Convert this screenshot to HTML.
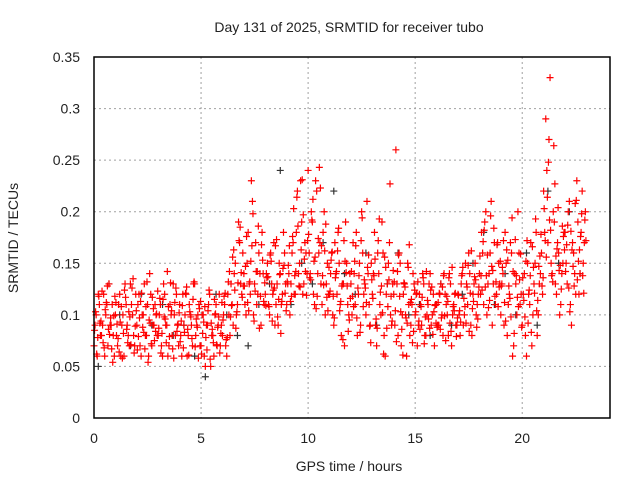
<!DOCTYPE html>
<html><head><meta charset="utf-8"><style>
body{margin:0;background:#fff}
svg text{font-family:"Liberation Sans",sans-serif;font-size:14px;fill:#222}
</style></head><body>
<svg id="chart" width="640" height="480" xmlns="http://www.w3.org/2000/svg">
<rect width="640" height="480" fill="#fff"/>
<text x="349" y="32" text-anchor="middle">Day 131 of 2025, SRMTID for receiver tubo</text>
<text x="349" y="471" text-anchor="middle">GPS time / hours</text>
<text transform="translate(18,238) rotate(-90)" text-anchor="middle">SRMTID / TECUs</text>
<g id="grid"></g><g id="marks"></g><g id="axes"></g>
</svg>
<script>
const xTicks=[0,5,10,15,20];
const yTicks=[0,0.05,0.1,0.15,0.2,0.25,0.3,0.35];
const yTickLabels=["0","0.05","0.1","0.15","0.2","0.25","0.3","0.35"];
const redA_hundredths=[7,10,12,8,9,6,11,13,9,8,10,7,12,9,6,11,8,13,10,7,9,12,6,10,8,11,14,7,9,10,8,11,6,12,9,7,10,13,8,9,11,6,9,12,8,10,7,13,9,11,7,10,5,9,12,8,6,11,9,7,8,11,6,10,13,9,15,11,17,12,14,10,18,12,21,13,11,16,9,14,12,15,10,13,17,11,9,14,12,16,11,14,13,17,12,22,15,19,13,16,24,14,19,11,22,16,13,18,10,15,12,16,9,14,18,11,13,7,15,10,13,17,11,8,15,20,12,10,14,9,12,18,7,14,10,16,6,13,17,9,12,26,8,15,10,13,6,11,9,14,10,7,12,9,13,8,11,14,10,7,11,9,13,8,12,10,14,7,11,9,12,8,14,10,13,16,9,12,15,11,14,18,11,20,13,16,9,17,12,15,10,14,18,8,12,16,7,13,20,11,9,14,6,12,17,10,15,8,13,16,22,29,17,33,14,19,12,16,11,15,18,13,21,9,16,12,19,14,22,17];
const redB_hundredths=[9,6,11,8,12,10,7,9,11,6,8,11,6,10,13,9,7,11,8,12,11,7,10,13,8,6,12,9,11,8,10,7,13,9,6,11,8,10,12,7,8,12,10,6,11,9,13,8,10,7,10,6,9,11,5,8,10,7,12,9,10,7,12,8,11,14,10,19,13,16,11,15,13,23,10,17,12,14,18,11,14,11,16,12,9,13,15,11,18,13,13,10,16,12,18,14,23,12,17,14,16,20,12,23,14,17,11,20,13,12,14,10,17,12,15,8,13,19,11,14,10,14,18,12,9,16,13,21,11,15,14,9,16,11,19,8,12,15,10,13,9,13,16,7,12,10,15,8,11,13,12,9,11,14,8,10,13,9,12,11,9,12,10,14,11,8,13,10,12,9,10,13,9,15,11,14,8,13,10,12,12,16,19,10,14,21,13,11,17,13,13,9,15,11,17,6,14,10,16,12,12,8,15,11,7,13,18,10,14,12,18,24,27,15,20,13,17,10,14,18,15,20,11,17,14,23,12,18,15,20];
const redC_thousandths=[85,62,118,94,73,105,128,81,67,99,112,77,93,58,124,86,103,71,135,89,66,97,121,83,108,54,92,117,75,101,87,63,115,96,142,79,104,58,126,91,74,109,83,127,61,98,115,69,88,106,62,93,78,104,57,86,115,71,98,82,95,121,78,142,109,163,87,131,185,117,128,176,104,152,198,123,142,87,168,113,109,137,158,94,126,173,115,82,145,121,132,167,118,203,142,186,127,231,154,119,178,134,212,156,118,243,167,129,188,104,123,161,97,142,184,113,76,152,128,95,142,108,167,126,83,194,134,112,158,73,116,154,87,193,128,62,146,108,227,94,132,74,158,103,61,127,92,168,115,84,103,132,86,117,72,142,96,124,81,109,88,121,97,138,75,113,92,146,104,79,119,93,146,108,127,84,162,113,134,96,157,124,182,138,107,196,143,118,168,127,128,172,94,153,116,194,82,138,108,159,136,98,172,124,83,146,193,114,157,128,203,156,248,182,132,227,164,143,125,176,142,187,103,163,128,211,152,176,138,192];
const redD_thousandths=[103,78,92,123,68,112,86,97,54,118,91,64,108,82,117,73,98,126,63,104,79,113,88,67,132,95,72,106,84,123,116,82,98,73,108,131,67,112,84,102,94,68,121,86,103,77,132,96,58,113,82,108,66,124,92,73,101,88,63,112,118,76,132,98,156,124,103,172,141,128,147,112,132,167,94,142,186,118,153,131,136,108,152,124,167,98,139,113,148,104,148,113,176,138,214,128,163,197,142,172,136,192,152,106,174,223,138,162,117,146,153,118,136,162,104,128,172,141,84,116,118,152,97,138,172,108,126,146,89,134,138,96,172,122,102,156,87,134,118,143,104,142,118,86,131,97,146,112,73,124,121,94,108,136,98,114,87,127,103,92,112,86,127,99,118,136,84,108,121,97,104,138,116,92,148,121,106,137,88,127,138,171,127,158,114,147,184,132,108,152,146,112,163,128,98,142,173,117,134,88,114,152,92,138,166,121,104,147,178,136,172,214,192,138,264,157,204,148,186,163,168,126,181,147,208,134,163,198,121,172];
const black_hundredths=[5,13,10,7,12,9,11,8,9,6,4,12,10,8,7,11,13,24,11,15,13,17,22,14,12,16,9,13,16,10,11,8,13,9,12,15,18,11,14,10,16,9,22,15,20,14];
const redStartA=0.0, redStartB=0.05, redStartC=0.025, redStartD=0.075, redStep=0.1, blackStart=0.2, blackStep=0.5;

const X0=94,X1=610,Y0=418,Y1=57,XMAX=24.1,YMAX=0.35;
const sx=h=>X0+h/XMAX*(X1-X0);
const sy=v=>Y0-v/YMAX*(Y0-Y1);
const NS="http://www.w3.org/2000/svg";
function mk(tag,parent){const e=document.createElementNS(NS,tag);parent.appendChild(e);return e;}
const grid=document.getElementById('grid'),marks=document.getElementById('marks'),axes=document.getElementById('axes');
xTicks.forEach(t=>{
  const l=mk('line',grid);
  
  
  l.setAttribute('x1',sx(t));l.setAttribute('x2',sx(t));l.setAttribute('y1',Y1);l.setAttribute('y2',Y0);
  l.setAttribute('stroke','#a0a0a0');l.setAttribute('stroke-dasharray','2,3');
  const tx=mk('text',axes);
  
  
  tx.setAttribute('x',sx(t));tx.setAttribute('y',Y0+25);tx.setAttribute('text-anchor','middle');tx.textContent=t;
});
yTicks.forEach((t,i)=>{
  const l=mk('line',grid);
  
  
  l.setAttribute('x1',X0);l.setAttribute('x2',X1);l.setAttribute('y1',sy(t));l.setAttribute('y2',sy(t));
  l.setAttribute('stroke','#a0a0a0');l.setAttribute('stroke-dasharray','2,3');
  const tx=mk('text',axes);
  
  
  tx.setAttribute('x',X0-14);tx.setAttribute('y',sy(t)+5);tx.setAttribute('text-anchor','end');tx.textContent=yTickLabels[i];
});
function cross(h,v,color,name){
  const p=mk('path',marks);
  
  
  const x=sx(h),y=sy(v);
  p.setAttribute('d',`M${x-3.5},${y}H${x+3.5}M${x},${y-3.5}V${y+3.5}`);
  p.setAttribute('stroke',color);p.setAttribute('stroke-width','1.2');
}
black_hundredths.forEach((v,i)=>cross(blackStart+i*blackStep,v/100,'#333','black-point'));
redA_hundredths.forEach((v,i)=>cross(redStartA+i*redStep,v/100,'#f00','red-point'));
redB_hundredths.forEach((v,i)=>cross(redStartB+i*redStep,v/100,'#f00','red-point'));
redC_thousandths.forEach((v,i)=>cross(redStartC+i*redStep,v/1000,'#f00','red-point'));
redD_thousandths.forEach((v,i)=>cross(redStartD+i*redStep,v/1000,'#f00','red-point'));
const fr=mk('rect',axes);


fr.setAttribute('x',X0);fr.setAttribute('y',Y1);fr.setAttribute('width',X1-X0);fr.setAttribute('height',Y0-Y1);
fr.setAttribute('fill','none');fr.setAttribute('stroke','#000');fr.setAttribute('stroke-width','1.5');
</script>
</body></html>
